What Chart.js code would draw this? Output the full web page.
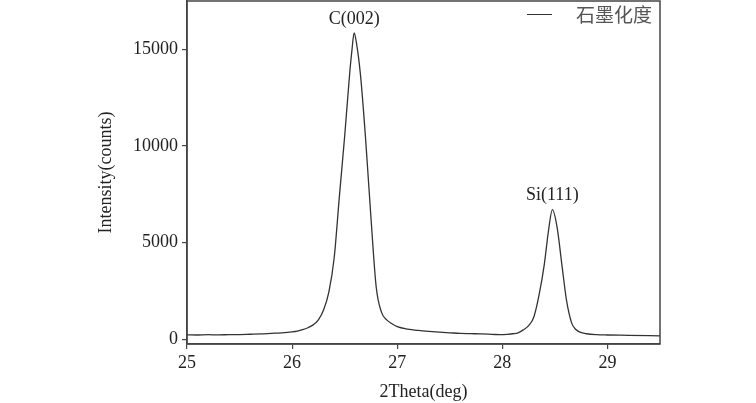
<!DOCTYPE html>
<html>
<head>
<meta charset="utf-8">
<script src="https://cdn.jsdelivr.net/npm/chart.js@4/dist/chart.umd.min.js"></script>
<style>
  html, body { margin: 0; padding: 0; background: #fff; }
  #wrap { width: 756px; height: 403px; }
</style>
</head>
<body>
<div id="wrap"><canvas id="xrd"></canvas></div>
<script>
// 2Theta positions (deg) and intensity (counts)
const twoTheta = [
  25.00, 25.10, 25.20, 25.30, 25.40, 25.50, 25.60, 25.70, 25.80, 25.90,
  26.00, 26.05, 26.10, 26.15, 26.20, 26.25, 26.30, 26.35, 26.40, 26.45,
  26.50, 26.55, 26.57, 26.59, 26.61, 26.65, 26.70, 26.75, 26.80, 26.85,
  26.90, 26.95, 27.00, 27.10, 27.20, 27.30, 27.40, 27.50, 27.60, 27.70,
  27.80, 27.90, 28.00, 28.05, 28.10, 28.15, 28.20, 28.25, 28.30, 28.35,
  28.40, 28.44, 28.476, 28.52, 28.57, 28.61, 28.66, 28.70, 28.74, 28.80,
  28.90, 29.00, 29.20, 29.50
];
const intensity = [
  225, 215, 230, 220, 235, 240, 255, 270, 300, 330,
  380, 420, 490, 590, 740, 1000, 1520, 2450, 4200, 7400,
  10500, 13900, 15000, 15850, 15400, 13700, 10300, 6300, 2700, 1400,
  1000, 800, 650, 520, 450, 400, 360, 330, 300, 285,
  270, 250, 230, 250, 280, 330, 480, 700, 1150, 2300,
  3900, 5650, 6700, 5820, 3700, 2030, 830, 500, 360, 280,
  230, 215, 200, 175
];
const xTicks = [25, 26, 27, 28, 29];
const yTicks = [0, 5000, 10000, 15000];
const peakLabels = ["C(002)", "Si(111)"];
const peakPos = [26.59, 28.476];
const peakVal = [15850, 6700];
const seriesName = "石墨化度";

const axisColor = "#444";
const serif = "'Liberation Serif', 'Times New Roman', serif";

// frame, peak labels and legend
const extras = {
  id: "extras",
  afterDraw(chart) {
    const { ctx, chartArea: a, scales } = chart;
    ctx.save();
    ctx.strokeStyle = axisColor;
    ctx.lineWidth = 1.5;
    ctx.strokeRect(a.left, a.top, a.right - a.left, a.bottom - a.top);

    ctx.fillStyle = "#222";
    ctx.font = "18px " + serif;
    ctx.textAlign = "center";
    ctx.textBaseline = "bottom";
    peakLabels.forEach((t, i) => {
      const px = scales.x.getPixelForValue(peakPos[i]);
      const py = scales.y.getPixelForValue(peakVal[i]);
      ctx.fillText(t, px, py - 5);
    });

    // legend
    ctx.strokeStyle = "#333";
    ctx.lineWidth = 1;
    ctx.beginPath();
    ctx.moveTo(527, 14.5);
    ctx.lineTo(552, 14.5);
    ctx.stroke();
    ctx.fillStyle = "#555";
    ctx.font = "19px 'Noto Sans CJK SC'";
    ctx.textAlign = "left";
    ctx.textBaseline = "middle";
    ctx.fillText(seriesName, 576, 15);
    ctx.restore();
  }
};

new Chart(document.getElementById("xrd"), {
  type: "line",
  data: {
    labels: twoTheta,
    datasets: [{
      label: seriesName,
      data: twoTheta.map((x, i) => ({ x: x, y: intensity[i] })),
      borderColor: "#333",
      borderWidth: 1.3,
      pointRadius: 0,
      fill: false,
      cubicInterpolationMode: "monotone"
    }]
  },
  options: {
    responsive: true,
    maintainAspectRatio: false,
    animation: false,
    layout: { padding: { left: 0, right: 96, top: 1, bottom: 0 } },
    plugins: { legend: { display: false }, tooltip: { enabled: false } },
    scales: {
      x: {
        type: "linear",
        min: 25,
        max: 29.5,
        afterBuildTicks: (s) => { s.ticks = xTicks.map(v => ({ value: v })); },
        afterFit: (s) => { s.height = 59; s.paddingLeft = 0; s.paddingRight = 0; },
        border: { color: axisColor, width: 1.5 },
        grid: { drawOnChartArea: false, drawTicks: true, tickLength: 5, color: axisColor, lineWidth: 1.2 },
        ticks: { color: "#222", font: { family: serif, size: 18 }, padding: 3, maxRotation: 0, callback: (v) => String(v) },
        title: { display: true, text: "2Theta(deg)", color: "#222", font: { family: serif, size: 18 }, padding: { top: 0, bottom: 0 } }
      },
      y: {
        min: -250,
        max: 17500,
        afterBuildTicks: (s) => { s.ticks = yTicks.map(v => ({ value: v })); },
        afterFit: (s) => { s.width = 187; s.paddingTop = 0; s.paddingBottom = 0; },
        border: { color: axisColor, width: 1.5 },
        grid: { drawOnChartArea: false, drawTicks: true, tickLength: 5, color: axisColor, lineWidth: 1.2 },
        ticks: { color: "#222", font: { family: serif, size: 18 }, padding: 4, callback: (v) => String(v) },
        title: { display: true, text: "Intensity(counts)", color: "#222", font: { family: serif, size: 18 }, padding: { top: 95, bottom: 0 } }
      }
    }
  },
  plugins: [extras]
});
</script>
</body>
</html>
